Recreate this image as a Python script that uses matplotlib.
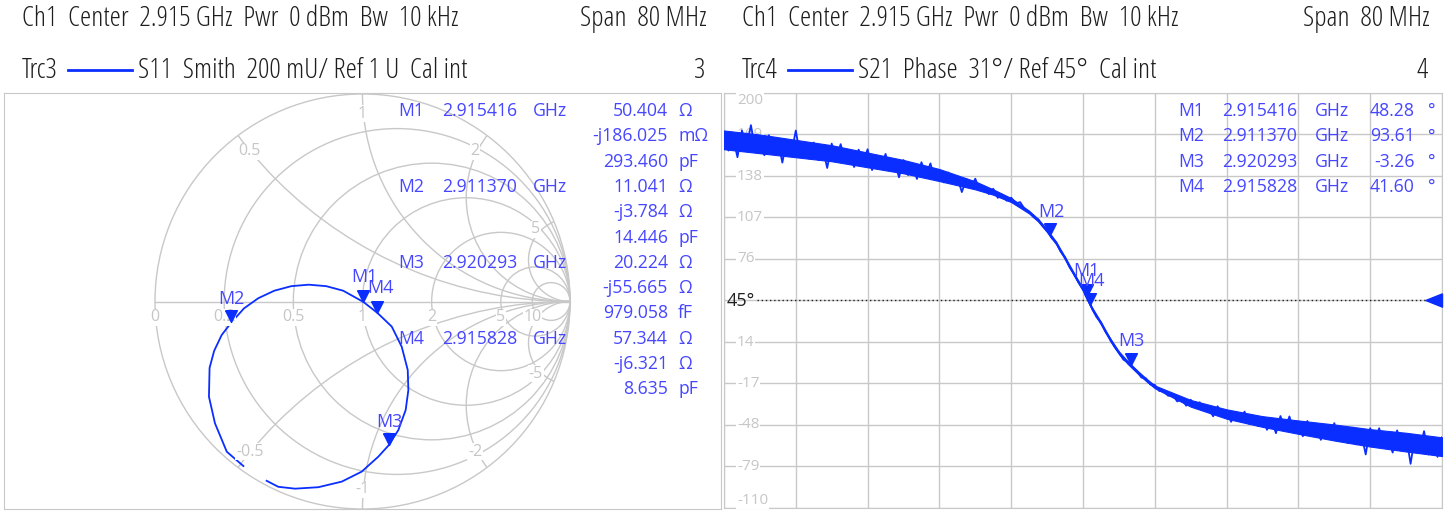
import numpy as np
import matplotlib.pyplot as plt
from matplotlib.patches import Circle
from matplotlib.path import Path
from matplotlib.lines import Line2D

plt.rcParams['font.family'] = ['Open Sans', 'DejaVu Sans']

W, H = 1446, 511
BLUE = '#0a2eff'
MK_TXT = '#4646ff'
GRID = '#c8c8c8'
LBL = '#c6c6c6'
HDR = '#1e1e1e'

# ---- data ----
# S11 trace on the Smith chart (reflection coefficient, re / im)
s11_re = [-0.574, -0.654, -0.711, -0.740, -0.737, -0.715, -0.679, -0.632, -0.571,
          -0.502, -0.425, -0.343, -0.259, -0.175, -0.093, 0.004, 0.072, 0.141,
          0.189, 0.218, 0.221, 0.208, 0.173, 0.126, 0.076, -0.004, -0.100,
          -0.213, -0.325, -0.406, -0.462]
s11_im = [-0.793, -0.724, -0.587, -0.459, -0.320, -0.238, -0.162, -0.101, -0.033,
          0.016, 0.052, 0.074, 0.081, 0.074, 0.052, -0.002, -0.055, -0.121,
          -0.218, -0.330, -0.427, -0.523, -0.619, -0.693, -0.748, -0.820, -0.868,
          -0.895, -0.902, -0.893, -0.864]

mk_names = ['M1', 'M2', 'M3', 'M4']
mk_freq_txt = ['2.915416', '2.911370', '2.920293', '2.915828']
mk_freq = [2.915416, 2.911370, 2.920293, 2.915828]
s11_res = [50.404, 11.041, 20.224, 57.344]      # ohm
s11_reac = [-0.186025, -3.784, -55.665, -6.321]  # ohm
s11_vals = [['50.404', '-j186.025', '293.460'],
            ['11.041', '-j3.784', '14.446'],
            ['20.224', '-j55.665', '979.058'],
            ['57.344', '-j6.321', '8.635']]
s11_units = [['Ω', 'mΩ', 'pF'],
             ['Ω', 'Ω', 'pF'],
             ['Ω', 'Ω', 'fF'],
             ['Ω', 'Ω', 'pF']]
s21_mk_phase = [48.28, 93.61, -3.26, 41.60]
s21_mk_txt = ['48.28', '93.61', '-3.26', '41.60']

# S21 phase trace, 161 points over 2.875 .. 2.955 GHz
s21_phase = [171, 157, 167, 152, 172, 159.5, 176, 157, 164, 153.5,
             168.5, 158.2, 165, 148, 165, 154.5, 172, 152.5, 161, 151,
             163, 150, 158.4, 144, 162.2, 151.2, 161.8, 148.3, 154.1, 144.7,
             157.7, 148.2, 158, 142.4, 153, 144.6, 154.5, 142, 149.1, 137,
             149.9, 138.7, 145.6, 135.8, 148.3, 138.4, 147.4, 135.3, 140.1, 133.2,
             140.6, 134.1, 137, 126, 135.8, 129.4, 136, 127.3, 129.9, 124.5,
             128.5, 121.7, 124, 119.5, 121.8, 117.5, 118.5, 113.3, 111.2, 107.3,
             105.6, 100.8, 97.4, 91.7, 88.5, 81.6, 77.3, 69.9, 64.8, 58.4,
             53.6, 46.4, 39.2, 32.7, 28.7, 21.7, 16.8, 10.5, 6.2, 0.8,
             -0.9, -4.7, -7.6, -12.5, -13.1, -17.8, -18, -22.6, -22.9, -26.2,
             -25.5, -30.4, -28.4, -33.6, -29.1, -34.2, -31, -36.8, -35.4, -41.5,
             -34, -40.4, -37.3, -45.6, -38.4, -44.7, -38, -47.1, -42.2, -48.8,
             -41.9, -51.6, -44.5, -54.1, -41.3, -50.9, -41.6, -53.3, -48.2, -56.4,
             -45, -53.2, -48.1, -59.1, -48.4, -56.6, -46.6, -59.7, -51.4, -61.5,
             -50, -62.5, -54.2, -70, -50.4, -61.2, -50.4, -63.6, -57.6, -68.6,
             -52, -63.4, -55.8, -77, -55.7, -67.1, -52.6, -70, -59.4, -71.8,
             -57.2]
# dense core of the noisy phase band (GHz, lower / upper edge in deg)
band_f = [2.875, 2.879, 2.883, 2.887, 2.891, 2.895, 2.899, 2.903, 2.905, 2.907,
          2.909, 2.910, 2.911, 2.912, 2.913, 2.914, 2.915, 2.916, 2.917, 2.918,
          2.919, 2.920, 2.921, 2.922, 2.923, 2.927, 2.931, 2.935, 2.939, 2.943,
          2.947, 2.951, 2.955]
band_lo = [158, 155, 152, 149, 144.5, 140, 134.2, 128, 124, 118.5,
           110, 104, 96, 87, 75.5, 63.5, 52, 38, 27, 15,
           5, -2.5, -9, -15, -20.5, -34.3, -43.3, -49.4, -54.6, -59.6,
           -64.1, -67.8, -71.2]
band_hi = [172, 169, 165, 161, 155.5, 150, 143.2, 134, 128, 121.5,
           112, 106, 98, 89, 77.5, 65.5, 54, 40, 29, 17,
           7, -0.5, -7, -13, -18.5, -29.3, -36.3, -41.4, -44.6, -47.6,
           -51.1, -53.8, -57.2]
f_start, f_stop = 2.875, 2.955
phase_ticks = [200, 169, 138, 107, 76, 45, 14, -17, -48, -79, -110]
ref_phase = 45

smith_r = [0.2, 0.5, 1, 2, 5, 10]
smith_r_lbl = ['0.2', '0.5', '1', '2', '5', '10']
smith_x = [0.5, 1, 2, 5]
smith_x_lbl = ['0.5', '1', '2', '5']


def fx(x):
    return x / W


def fy(y):
    return 1 - y / H


# marker shapes with the tip at the data point
tri_down = Path([(-0.5, 1.0), (0.5, 1.0), (0.0, 0.0), (-0.5, 1.0)])
tri_left = Path([(0.0, 0.4), (0.0, -0.4), (-1.0, 0.0), (0.0, 0.4)])

fig = plt.figure(figsize=(W / 100, H / 100), dpi=100)

# ---------------- Smith chart ----------------
SC_X, SC_Y, SC_R = 362.5, 301.5, 207.5
L, R, T, B = 4, 721, 93, 509
ax1 = fig.add_axes([fx(L), fy(B), (R - L) / W, (B - T) / H])
ax1.set_xlim((L - SC_X) / SC_R, (R - SC_X) / SC_R)
ax1.set_ylim((SC_Y - B) / SC_R, (SC_Y - T) / SC_R)
ax1.set_xticks([])
ax1.set_yticks([])
for sp in ax1.spines.values():
    sp.set_color(GRID)

ax1.add_patch(Circle((0, 0), 1, fill=False, ec=GRID, lw=1))
ax1.plot([-1, 1], [0, 0], color=GRID, lw=1)
for r in smith_r:
    ax1.add_patch(Circle((r / (1 + r), 0), 1 / (1 + r), fill=False, ec=GRID, lw=1))
clip = Circle((0, 0), 1, transform=ax1.transData)
for x in smith_x:
    for s in (1, -1):
        arc = Circle((1, s / x), 1 / x, fill=False, ec=GRID, lw=1)
        ax1.add_patch(arc)
        arc.set_clip_path(clip)

lbl_kw = dict(color=LBL, fontsize=11.5, ha='center', va='center',
              bbox=dict(fc='white', ec='none', pad=0.5))
ax1.text(-1, -0.077, '0', **lbl_kw)
for r, t in zip(smith_r, smith_r_lbl):
    ax1.text((r - 1) / (r + 1), -0.077, t, **lbl_kw)
for x, t in zip(smith_x, smith_x_lbl):
    for s in (1, -1):
        g = (x * x - 1 + 2j * s * x) / (x * x + 1)
        g = g / abs(g) * 0.905
        ax1.text(g.real, g.imag, t if s > 0 else '-' + t, **lbl_kw)

ax1.plot(s11_re, s11_im, color=BLUE, lw=1.3)

z = (np.array(s11_res) + 1j * np.array(s11_reac)) / 50.0
gam = (z - 1) / (z + 1)
smith_lbl_off = [(1, 18), (0, 17), (1, 17), (2, 18)]
for name, g, off in zip(mk_names, gam, smith_lbl_off):
    ax1.plot(g.real, g.imag, marker=tri_down, ms=17, color=BLUE, mec=BLUE, zorder=5)
    ax1.annotate(name, (g.real, g.imag), xytext=off, textcoords='offset points',
                 ha='center', va='center', color=MK_TXT, fontsize=13, zorder=6)

# marker readout on the Smith chart
row_y = 111
for i, name in enumerate(mk_names):
    fig.text(fx(398), fy(row_y), name, color=MK_TXT, fontsize=12.7, va='center')
    fig.text(fx(442), fy(row_y), mk_freq_txt[i], color=MK_TXT, fontsize=12.7, va='center')
    fig.text(fx(533), fy(row_y), 'GHz', color=MK_TXT, fontsize=12.7, va='center')
    for v, u in zip(s11_vals[i], s11_units[i]):
        fig.text(fx(668), fy(row_y), v, color=MK_TXT, fontsize=12.7, va='center', ha='right')
        fig.text(fx(678), fy(row_y), u, color=MK_TXT, fontsize=12.7, va='center')
        row_y += 25.3

# ---------------- phase diagram ----------------
L2, R2, T2, B2 = 724, 1442, 93, 508
ax2 = fig.add_axes([fx(L2), fy(B2), (R2 - L2) / W, (B2 - T2) / H])
ax2.set_xlim(f_start, f_stop)
ax2.set_ylim(phase_ticks[-1], phase_ticks[0])
ax2.set_xticks(np.linspace(f_start, f_stop, 11))
ax2.set_yticks(phase_ticks)
ax2.tick_params(length=0, labelleft=False, labelbottom=False)
ax2.grid(True, color=GRID, lw=1)
for sp in ax2.spines.values():
    sp.set_color(GRID)

lx = (737 - L2) / (R2 - L2)
for v in phase_ticks:
    if v == ref_phase:
        continue
    va = 'center'
    if v == phase_ticks[0]:
        va = 'top'
    elif v == phase_ticks[-1]:
        va = 'bottom'
    ax2.text(lx, v, str(v), transform=ax2.get_yaxis_transform(), color=LBL,
             fontsize=11, va=va, ha='left', bbox=dict(fc='white', ec='none', pad=0.5))

ax2.axhline(ref_phase, xmin=(757 - L2) / (R2 - L2), color='#202020', lw=1, ls=(0, (1, 2)))
ax2.text(0.003, ref_phase, '45°', transform=ax2.get_yaxis_transform(), color='#202020',
         fontsize=13, va='center', ha='left')
ax2.plot(f_stop, ref_phase, marker=tri_left, ms=24, color=BLUE, clip_on=False, zorder=6)

ax2.fill_between(band_f, band_lo, band_hi, color=BLUE, lw=0.8, zorder=3)
freq = np.linspace(f_start, f_stop, len(s21_phase))
ax2.plot(freq, s21_phase, color=BLUE, lw=1.3, zorder=3)

phase_lbl_off = [(0, 18), (1, 17), (1, 17), (1, 17.5)]
for name, f, p, off in zip(mk_names, mk_freq, s21_mk_phase, phase_lbl_off):
    ax2.plot(f, p, marker=tri_down, ms=17, color=BLUE, zorder=5)
    ax2.annotate(name, (f, p), xytext=off, textcoords='offset points',
                 ha='center', va='center', color=MK_TXT, fontsize=13, zorder=6)

for i, name in enumerate(mk_names):
    y = 111 + 25.3 * i
    fig.text(fx(1178), fy(y), name, color=MK_TXT, fontsize=12.7, va='center')
    fig.text(fx(1222), fy(y), mk_freq_txt[i], color=MK_TXT, fontsize=12.7, va='center')
    fig.text(fx(1315), fy(y), 'GHz', color=MK_TXT, fontsize=12.7, va='center')
    fig.text(fx(1415), fy(y), s21_mk_txt[i], color=MK_TXT, fontsize=12.7, va='center', ha='right')
    fig.text(fx(1428), fy(y), '°', color=MK_TXT, fontsize=12.7, va='center')

# ---------------- headers ----------------
# font size chosen so that the channel line is as wide as in the screenshot
hdr_font = dict(family=['Open Sans', 'DejaVu Sans'], fontstretch='condensed', fontweight='medium')
renderer = fig.canvas.get_renderer()
probe = fig.text(0, 0, 'Ch1  Center  2.915 GHz  Pwr  0 dBm  Bw  10 kHz', fontsize=12, **hdr_font)
hdr_fs = 12 * 432 / probe.get_window_extent(renderer).width
probe.remove()

hdr_kw = dict(color=HDR, fontsize=hdr_fs, va='center', **hdr_font)
for x0, x1, trc, meas, num in [(22, 707, 'Trc3', 'S11  Smith  200 mU/ Ref 1 U  Cal int', '3'),
                               (742, 1430, 'Trc4', 'S21  Phase  31°/ Ref 45°  Cal int', '4')]:
    fig.text(fx(x0), fy(19), 'Ch1  Center  2.915 GHz  Pwr  0 dBm  Bw  10 kHz', **hdr_kw)
    fig.text(fx(x1), fy(19), 'Span  80 MHz', ha='right', **hdr_kw)
    fig.text(fx(x0), fy(71), trc, **hdr_kw)
    fig.add_artist(Line2D([fx(x0 + 46), fx(x0 + 110)], [fy(70), fy(70)], color=BLUE, lw=2))
    fig.text(fx(x0 + 116), fy(71), meas, **hdr_kw)
    fig.text(fx(x1 - 2), fy(71), num, ha='right', **hdr_kw)

fig.savefig('out.png', dpi=100)
